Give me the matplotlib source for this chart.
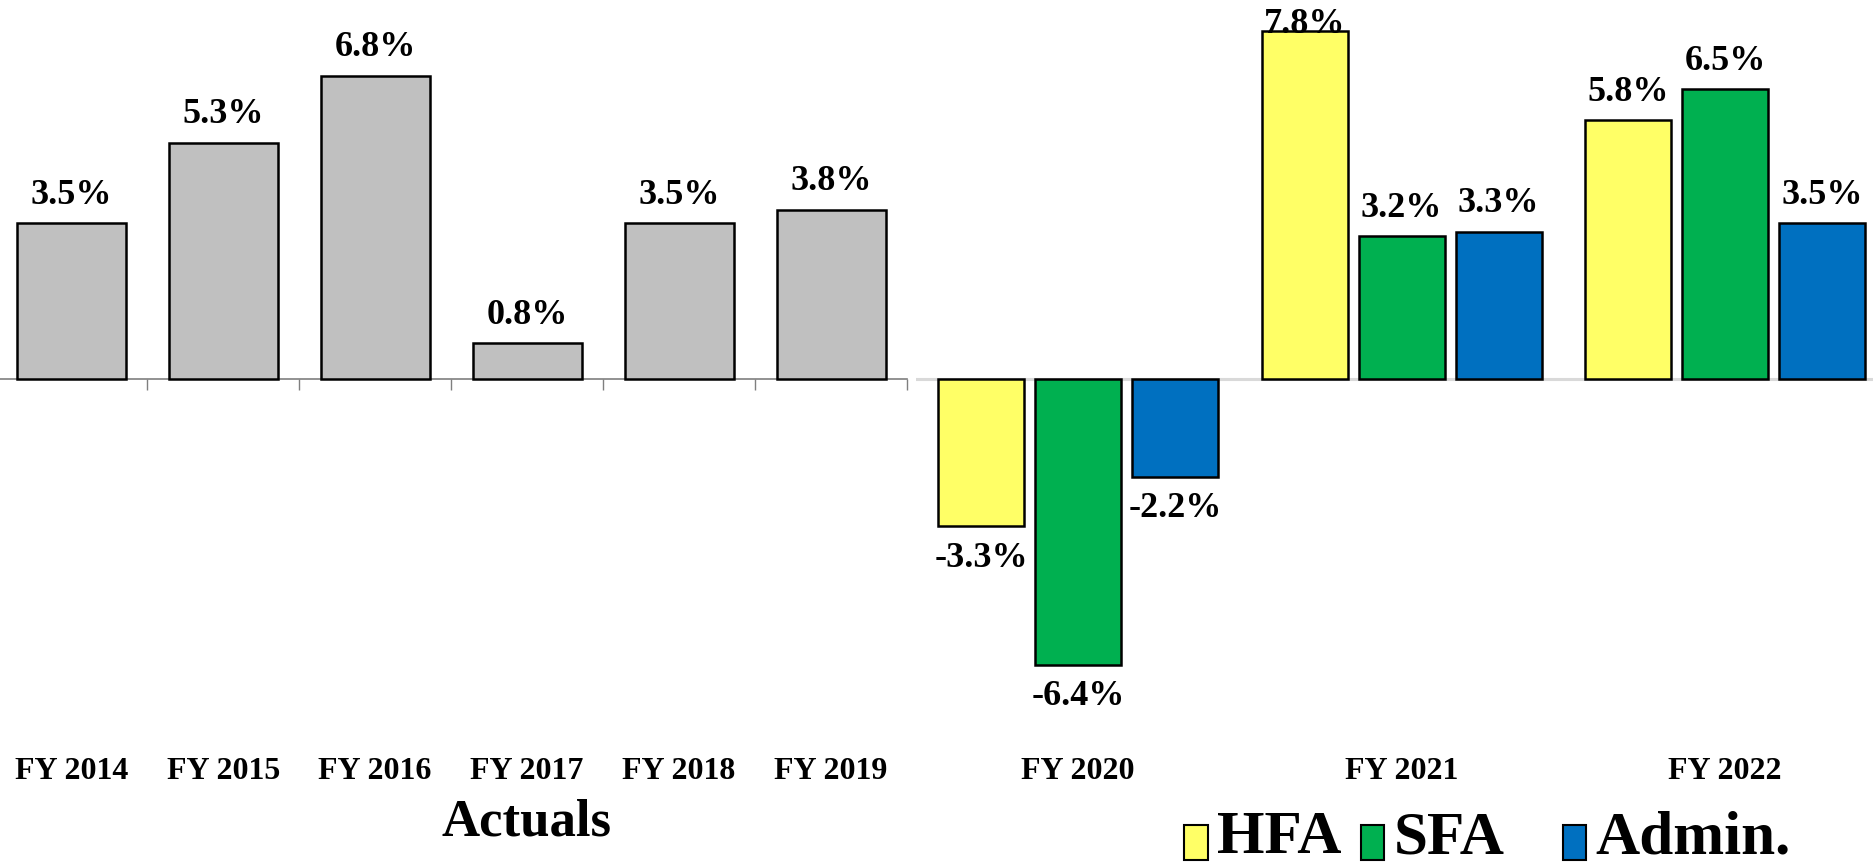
import matplotlib
matplotlib.use('Agg')
import matplotlib.pyplot as plt
from matplotlib.patches import Rectangle
from matplotlib.transforms import blended_transform_factory

plt.rcParams['font.family'] = ['Liberation Serif', 'DejaVu Serif']
plt.rcParams['font.weight'] = 'bold'

# actuals (left panel)
actual_years = ['FY 2014', 'FY 2015', 'FY 2016', 'FY 2017', 'FY 2018', 'FY 2019']
actual_vals = [3.5, 5.3, 6.8, 0.8, 3.5, 3.8]

# projections (right panel)
proj_years = ['FY 2020', 'FY 2021', 'FY 2022']
series_names = ['HFA', 'SFA', 'Admin.']
hfa = [-3.3, 7.8, 5.8]
sfa = [-6.4, 3.2, 6.5]
admin = [-2.2, 3.3, 3.5]

colors = ['#FFFF66', '#00B050', '#0070C0']
gray = '#C0C0C0'
ylo, yhi = -10.94, 8.5
lbl_size = 26

fig = plt.figure(figsize=(18.74, 8.67), dpi=100)


def label_bar(ax, x, v):
    txt = f'{v:.1f}%'
    if v >= 0:
        if v + 1.0 > yhi:
            # no room above the bar, so the label sits on the frame top
            ax.annotate(txt, (x, yhi), xytext=(0, -24), textcoords='offset points',
                        ha='center', va='baseline', fontsize=lbl_size, fontweight='bold')
        else:
            ax.annotate(txt, (x, v), xytext=(0, 14), textcoords='offset points',
                        ha='center', va='baseline', fontsize=lbl_size, fontweight='bold')
    else:
        ax.annotate(txt, (x, v), xytext=(0, -11), textcoords='offset points',
                    ha='center', va='top', fontsize=lbl_size, fontweight='bold')


# left panel
ax1 = fig.add_axes([0, 0, 0.484, 1])
xs = list(range(len(actual_vals)))
ax1.bar(xs, actual_vals, width=0.717, color=gray, edgecolor='black', linewidth=1.8, zorder=3)
for x, v in zip(xs, actual_vals):
    label_bar(ax1, x, v)
ax1.set_xlim(-0.469, 5.5)
ax1.set_ylim(ylo, yhi)
for s in ['top', 'right', 'left']:
    ax1.spines[s].set_visible(False)
ax1.spines['bottom'].set_position(('data', 0))
ax1.spines['bottom'].set_color('#7F7F7F')
ax1.spines['bottom'].set_linewidth(1.2)
ax1.set_yticks([])
ax1.set_xticks([i + 0.5 for i in xs])
ax1.tick_params(axis='x', direction='out', length=8, width=1.0, color='#7F7F7F', labelbottom=False)
tr1 = blended_transform_factory(ax1.transData, fig.transFigure)
for x, name in zip(xs, actual_years):
    ax1.text(x, 0.110, name, transform=tr1, ha='center', va='center', fontsize=23, fontweight='bold')
ax1.patch.set_visible(False)

# right panel
ax2 = fig.add_axes([0.489, 0, 0.511, 1])
gx = list(range(len(proj_years)))
w = 0.266
step = 0.30
for k, vals in enumerate([hfa, sfa, admin]):
    pos = [g + (k - 1) * step for g in gx]
    ax2.bar(pos, vals, width=w, color=colors[k], edgecolor='black', linewidth=1.8, zorder=3)
    for x, v in zip(pos, vals):
        label_bar(ax2, x, v)
ax2.axhline(0, color='#D9D9D9', linewidth=2.2, zorder=2)
ax2.set_xlim(-0.5, 2.46)
ax2.set_ylim(ylo, yhi)
ax2.axis('off')
tr2 = blended_transform_factory(ax2.transData, fig.transFigure)
for x, name in zip(gx, proj_years):
    ax2.text(x, 0.110, name, transform=tr2, ha='center', va='center', fontsize=23, fontweight='bold')

# footer text and legend
fig.text(0.281, 0.051, 'Actuals', ha='center', va='center', fontsize=38, fontweight='bold')
leg_x = [0.632, 0.726, 0.834]
for lx, c, name in zip(leg_x, colors, series_names):
    fig.add_artist(Rectangle((lx, 0.008), 0.0125, 0.040, transform=fig.transFigure,
                             facecolor=c, edgecolor='black', linewidth=1.5))
    fig.text(lx + 0.0175, 0.001, name, ha='left', va='bottom', fontsize=44, fontweight='bold')

fig.savefig('out.png', dpi=100)
